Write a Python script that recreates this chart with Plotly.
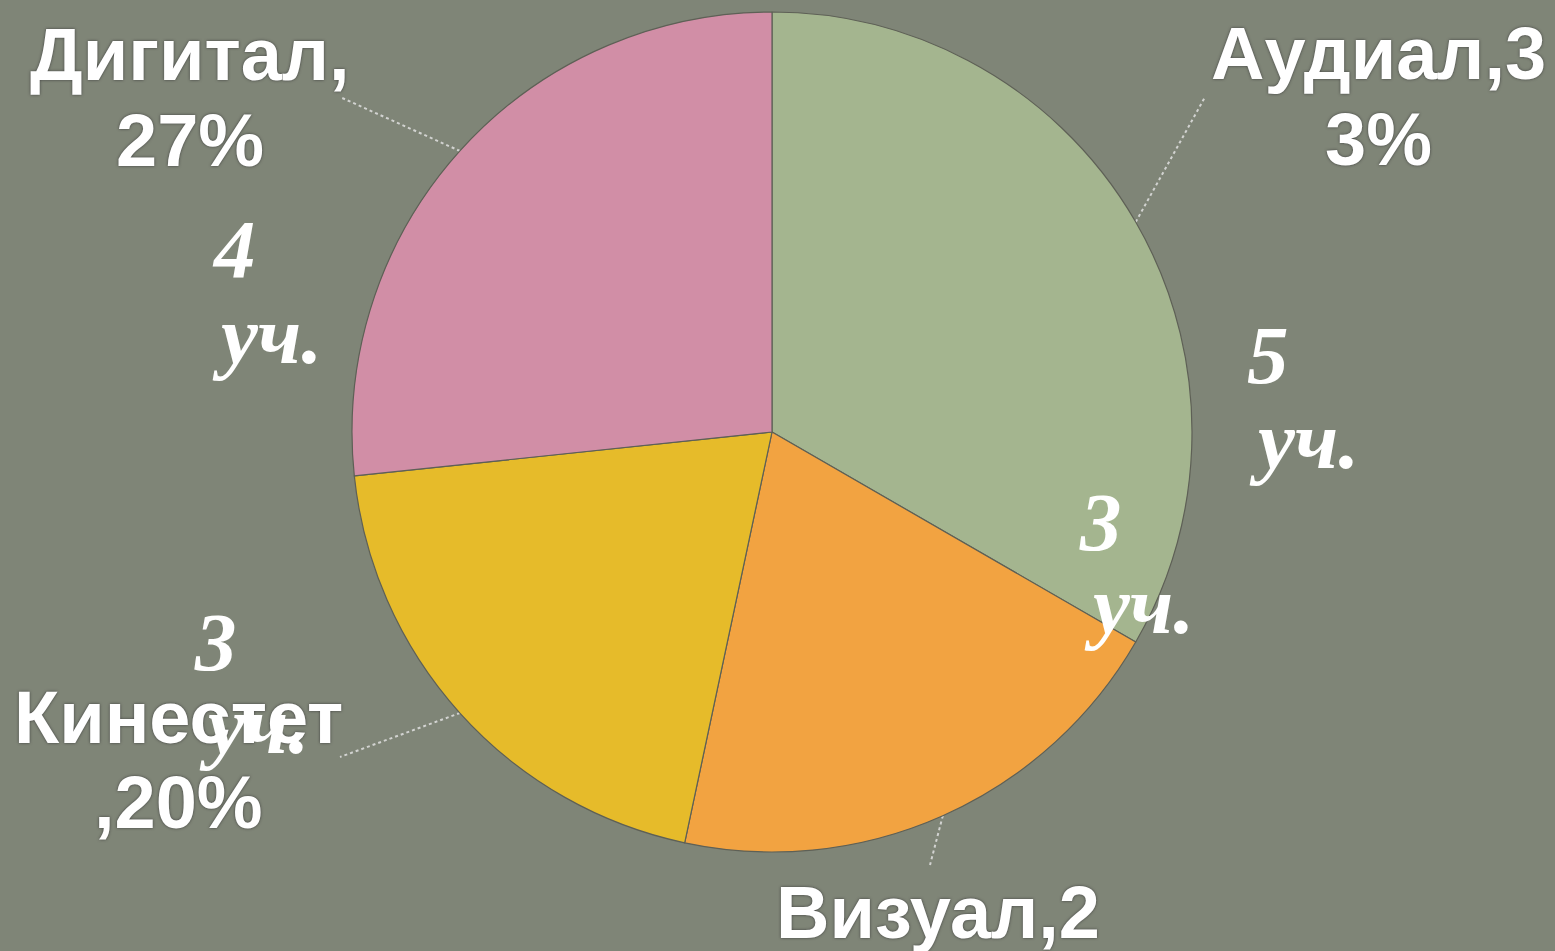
import math
import plotly.graph_objects as go

# data
categories = ["Аудиал", "Визуал", "Кинестет", "Дигитал"]
students = [5, 3, 3, 4]
label_lines = [["Аудиал,3", "3%"], ["Визуал,2", "0%"], ["Кинестет", ",20%"], ["Дигитал,", "27%"]]
unit = "уч."

colors = ["#a4b58f", "#f2a341", "#e6bb2a", "#d18ea6"]
bg = "#7f8577"

# layout in pixel space (figure 1555 x 951)
W, H = 1555, 951
cx, cy, R = 772, 432, 420
# category label centers: x, y of line 1, y of line 2
label_pos = [(1378, 53, 139), (938, 912, 998), (178, 717, 802), (190, 54, 140)]
# leader line outer ends
leader_end = [(1205, 97), (930, 865), (340, 757), (340, 97)]
# count labels: left x of digit, baseline of digit, left x of unit, baseline of unit
count_pos = [(1245, 383, 1247, 468), (1077, 550, 1082, 633), (192, 670, 197, 753), (210, 277, 210, 363)]

fig = go.Figure()
fig.add_trace(go.Pie(
    labels=categories, values=students, sort=False, direction="clockwise",
    rotation=0, textinfo="none", showlegend=False,
    marker=dict(colors=colors, line=dict(color="#5e6056", width=1.2)),
    domain=dict(x=[(cx - R) / W, (cx + R) / W], y=[(H - cy - R) / H, (H - cy + R) / H]),
))

total = sum(students)
cum = 0
for i, v in enumerate(students):
    mid = (cum + v / 2) / total * 2 * math.pi
    cum += v
    sx, sy = cx + R * math.sin(mid), cy - R * math.cos(mid)
    ex, ey = leader_end[i]
    fig.add_trace(go.Scatter(x=[sx, ex], y=[sy, ey], mode="lines", hoverinfo="skip",
                             line=dict(color="rgba(225,225,225,0.85)", width=2, dash="dot"),
                             showlegend=False))

sans = dict(family="Liberation Sans, Arial", size=74, color="white",
            weight="bold", shadow="0px 0px 3px #3c3c3c")
serif = dict(family="Liberation Serif, Times New Roman", size=83, color="white",
             weight="bold", style="italic")

ann = []
for i, lines in enumerate(label_lines):
    x, y1, y2 = label_pos[i]
    for txt, y in zip(lines, (y1, y2)):
        ann.append(dict(x=x, y=y, xref="x", yref="y", text=txt, showarrow=False,
                        xanchor="center", yanchor="middle", font=sans))
for i, v in enumerate(students):
    dx, db, ux, ub = count_pos[i]
    ann.append(dict(x=dx, y=db - 28, xref="x", yref="y", text=str(v), showarrow=False,
                    xanchor="left", yanchor="middle", font=serif))
    ann.append(dict(x=ux, y=ub - 28, xref="x", yref="y", text=unit, showarrow=False,
                    xanchor="left", yanchor="middle", font=serif))

fig.update_layout(
    width=W, height=H,
    margin=dict(l=0, r=0, t=0, b=0, pad=0),
    paper_bgcolor=bg, plot_bgcolor=bg,
    xaxis=dict(range=[0, W], visible=False, fixedrange=True),
    yaxis=dict(range=[H, 0], visible=False, fixedrange=True),
    annotations=ann,
)

fig.write_html("out.html", config={"displayModeBar": False},
               post_script="document.body.style.margin='0';document.body.style.overflow='hidden';")
